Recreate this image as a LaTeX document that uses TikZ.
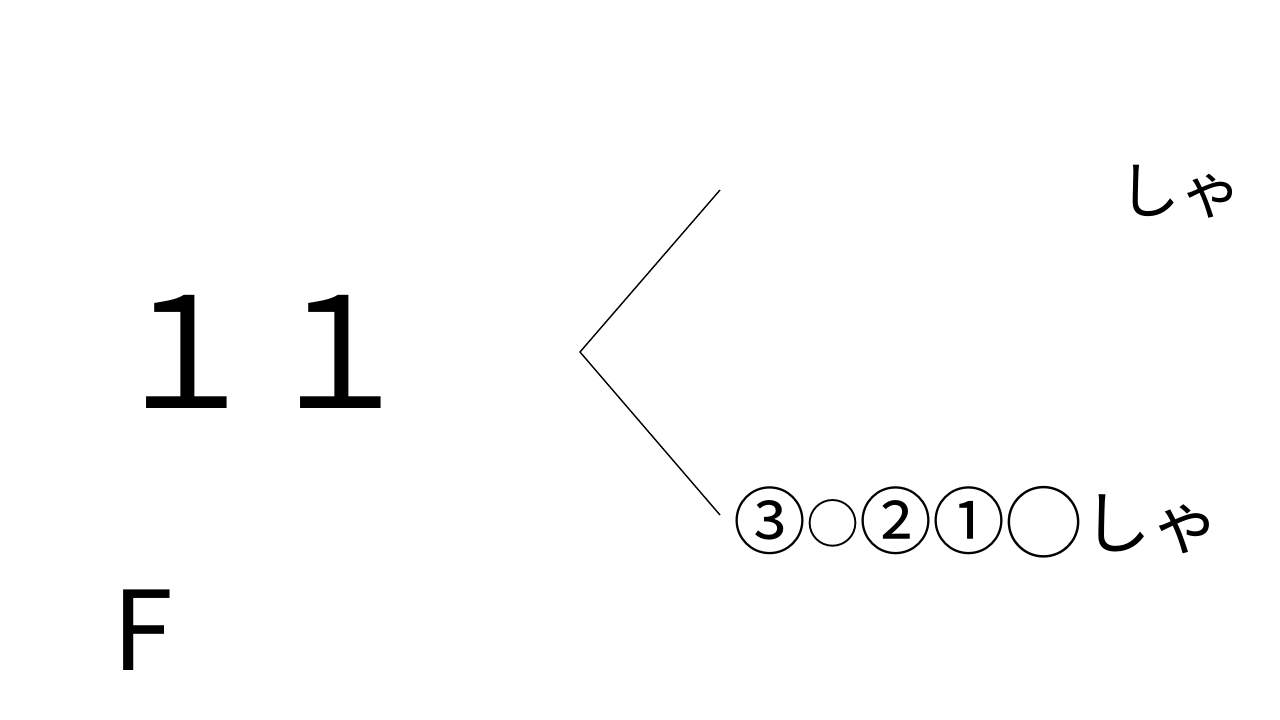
\documentclass[tikz,border=0pt]{standalone}
\usepackage{fontspec}
\setmainfont{Noto Sans CJK JP}
\newcommand{\sz}[1]{\fontsize{#1}{#1}\selectfont}
\begin{document}
\begin{tikzpicture}[x=1pt,y=-1pt,
  txt/.style={inner sep=0pt,outer sep=0pt,text=black},
  branch/.style={draw=black,line width=1.4pt}]
\useasboundingbox (0,0) rectangle (1280,720);
\node[txt,anchor=base west,font=\sz{154}] (n11) at (108,408) {１１};
\node[txt,anchor=base west,font=\sz{110}] (nF) at (112,670) {F};
\node[txt,anchor=base west,font=\sz{62}] (top) at (1118,213) {しゃ};
\node[txt,anchor=base west,font=\sz{73}] (bot) at (733,548)
  {③{\sz{53}\raisebox{5pt}{○}}②①{\sz{77}\raisebox{-3pt}{◯}}{\sz{69}しゃ}};
\coordinate (up) at (720,190);
\coordinate (apex) at (580,352);
\coordinate (down) at (720,515);
\draw[branch] (up) -- (apex) -- (down);
\end{tikzpicture}
\end{document}
